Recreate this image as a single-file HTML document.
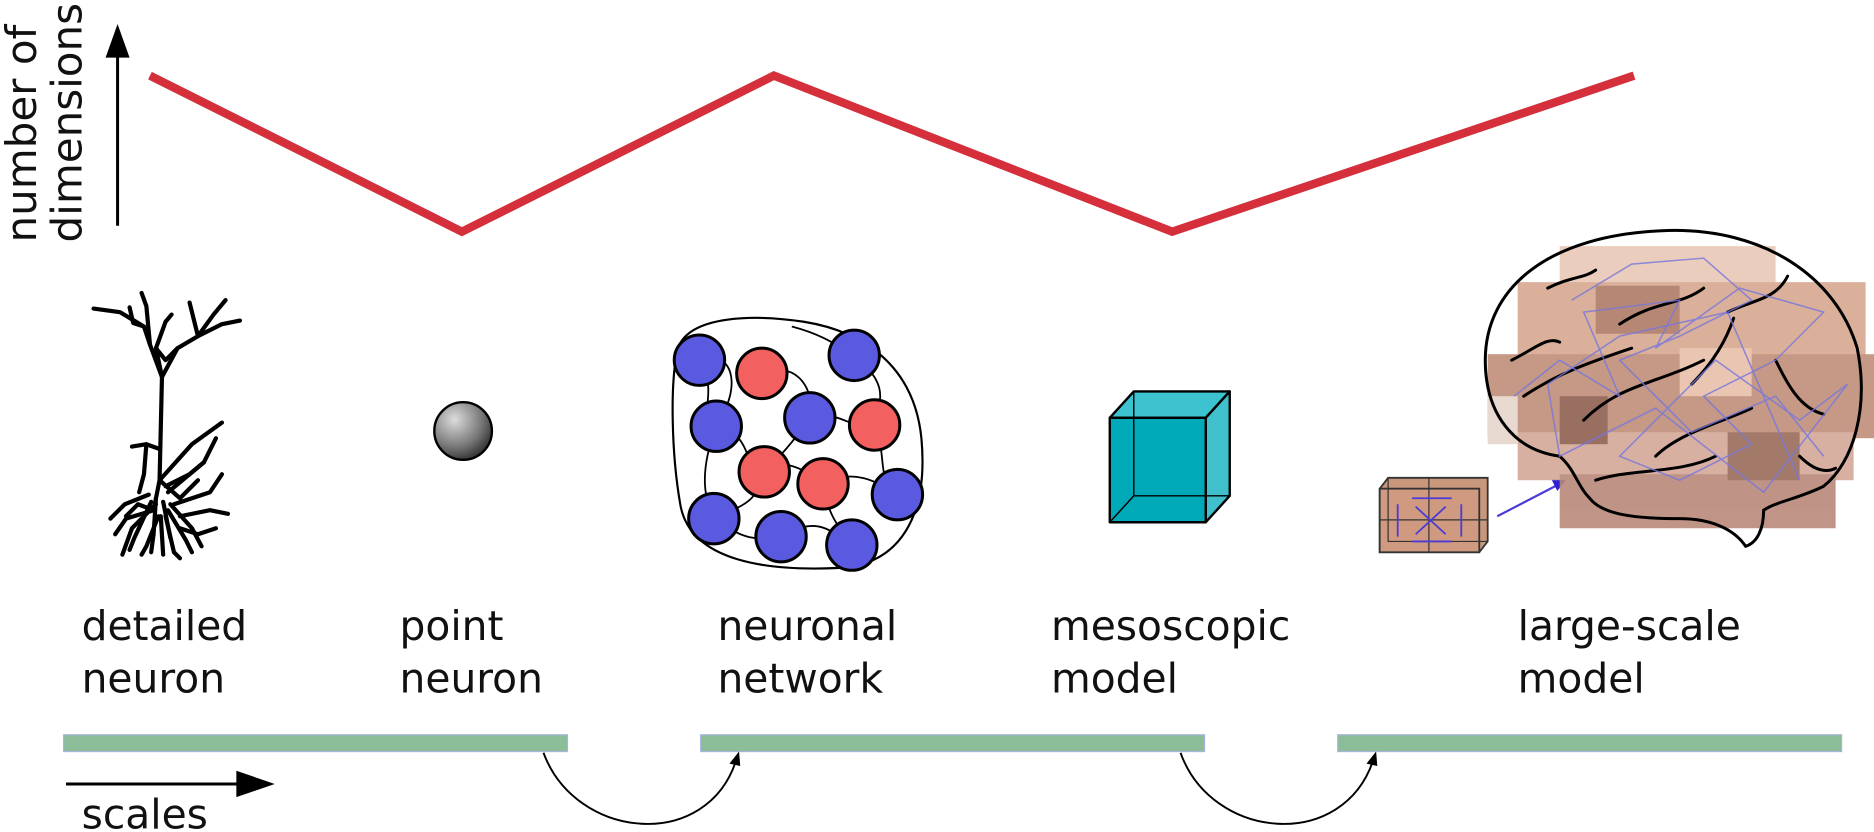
<!DOCTYPE html>
<html><head><meta charset="utf-8"><style>
html,body{margin:0;padding:0;background:#fff;}
svg{display:block;}
text{font-family:"DejaVu Sans","Liberation Sans",sans-serif;fill:#111;}
</style></head><body>
<svg width="1874" height="832" viewBox="0 0 1562 693" preserveAspectRatio="none" xmlns="http://www.w3.org/2000/svg">
<defs>
<radialGradient id="sph" cx="0.35" cy="0.3" r="0.8"><stop offset="0" stop-color="#ddd"/><stop offset="0.6" stop-color="#777"/><stop offset="1" stop-color="#222"/></radialGradient>
</defs>
<!-- y axis arrow -->
<line x1="98" y1="188" x2="98" y2="40" stroke="#000" stroke-width="2.5"/>
<path d="M98,20 L88,48 L108,48 z" fill="#000"/>
<text transform="translate(30,202) rotate(-90)" font-size="35">number of</text>
<text transform="translate(68,202) rotate(-90)" font-size="35">dimensions</text>
<!-- red zigzag -->
<polyline points="125,63 385,193 645,63 977,193 1362,63" fill="none" stroke="#d42f3b" stroke-width="7"/>
<!-- neuron -->
<g fill="none" stroke="#000" stroke-width="3.5" stroke-linecap="round" stroke-linejoin="round">
<path d="M133,400 L135,314 L125,287 L120,272 L100,260 L78,257"/>
<path d="M120,272 L111,269 L108,256"/>
<path d="M125,287 L122,255 L118,244"/>
<path d="M135,314 L130,290 L138,268 L143,262"/>
<path d="M135,314 L148,290 L165,280 L185,270 L200,267"/>
<path d="M148,290 L138,300 L130,290"/>
<path d="M165,280 L160,260 L158,252"/>
<path d="M165,280 L178,262 L188,250"/>
<path d="M133,374 L122,370 L110,372"/>
<path d="M122,370 L120,395 L116,410"/>
<path d="M133,400 L160,370 L185,352"/>
<path d="M140,410 L170,385 L180,365"/>
<path d="M145,420 L175,410 L185,395"/>
<path d="M150,430 L175,425 L190,428"/>
<path d="M150,440 L165,445 L180,440"/>
<path d="M130,420 L110,440 L102,462"/>
<path d="M128,425 L105,432 L96,445"/>
<path d="M132,430 L122,455 L118,462"/>
<path d="M134,430 L136,462"/>
<path d="M138,430 L145,460 L150,465"/>
<path d="M140,425 L155,450 L160,460"/>
<path d="M133,400 L128,425 L115,420 L105,430"/>
<path d="M133,400 L150,415 L165,400"/>
<path d="M126,418 L112,448 L108,458"/>
<path d="M130,415 L128,445 L126,460"/>
<path d="M136,418 L142,448"/>
<path d="M142,420 L160,440 L168,455"/>
<path d="M124,412 L104,420 L92,432"/>
<path d="M138,405 L158,395 L170,385"/>
</g>
<!-- point neuron -->
<circle cx="386" cy="359" r="24" fill="url(#sph)" stroke="#000" stroke-width="2"/>
<!-- network -->
<path d="M565,290 C575,262 630,262 670,268 C720,276 762,305 768,365 C774,430 750,470 700,473 C640,476 575,468 567,420 C560,380 558,320 565,290 z" fill="#fff" stroke="#000" stroke-width="1.8"/>
<g fill="none" stroke="#000" stroke-width="1.5">
<path d="M583,300 C610,290 620,320 597,355"/><path d="M597,355 C630,360 620,400 637,393"/>
<path d="M635,311 C660,300 680,320 675,348"/><path d="M712,296 C740,320 735,330 729,354"/>
<path d="M675,348 C700,340 710,360 729,354"/><path d="M637,393 C650,380 670,390 686,403"/>
<path d="M686,403 C710,390 730,400 748,412"/><path d="M595,432 C620,420 630,420 637,393"/>
<path d="M595,432 C620,450 630,450 651,447"/><path d="M651,447 C680,430 690,440 710,454"/>
<path d="M686,403 C690,430 700,440 710,454"/><path d="M660,272 C690,280 700,290 712,296"/>
<path d="M583,300 C600,330 580,340 597,355"/><path d="M675,348 C660,370 650,380 637,393"/>
<path d="M729,354 C740,380 730,400 748,412"/><path d="M597,355 C580,400 590,420 595,432"/>
</g>
<g stroke="#000" stroke-width="2.5">
<circle cx="583" cy="300" r="21" fill="#5a5ae0"/><circle cx="712" cy="296" r="21" fill="#5a5ae0"/>
<circle cx="597" cy="355" r="21" fill="#5a5ae0"/><circle cx="675" cy="348" r="21" fill="#5a5ae0"/>
<circle cx="748" cy="412" r="21" fill="#5a5ae0"/><circle cx="595" cy="432" r="21" fill="#5a5ae0"/>
<circle cx="651" cy="447" r="21" fill="#5a5ae0"/><circle cx="710" cy="454" r="21" fill="#5a5ae0"/>
<circle cx="635" cy="311" r="21" fill="#f26060"/><circle cx="729" cy="354" r="21" fill="#f26060"/>
<circle cx="637" cy="393" r="21" fill="#f26060"/><circle cx="686" cy="403" r="21" fill="#f26060"/>
</g>
<!-- cube -->
<g stroke="#000" stroke-width="2" stroke-linejoin="round">
<path d="M925,348 L945,326 L1025,326 L1005,348 z" fill="#3cc3cf"/>
<path d="M1005,348 L1025,326 L1025,413 L1005,435 z" fill="#40c0cc"/>
<rect x="925" y="348" width="80" height="87" fill="#00a9b7"/>
<path d="M945,326 L945,413 L925,435 M945,413 L1025,413" fill="none" stroke-width="1.2"/>
</g>
<!-- small cube -->
<g stroke="#333" stroke-width="1.5">
<path d="M1150,407 L1157,398 L1240,398 L1240,451 L1233,460 L1150,460 z" fill="#c9977c"/>
<rect x="1150" y="407" width="83" height="53" fill="#d09a80"/>
<path d="M1191,398 L1191,460 M1150,433 L1240,433 M1157,398 L1157,451 L1240,451" fill="none" stroke-width="1"/>
</g>
<g stroke="#4a3ad8" stroke-width="1.5">
<line x1="1177" y1="415" x2="1210" y2="415"/><line x1="1177" y1="451" x2="1210" y2="451"/>
<line x1="1165" y1="420" x2="1165" y2="447"/><line x1="1218" y1="420" x2="1218" y2="447"/>
<line x1="1180" y1="422" x2="1205" y2="445"/><line x1="1205" y1="422" x2="1180" y2="445"/>
</g>
<line x1="1248" y1="430" x2="1302" y2="402" stroke="#4a3ad8" stroke-width="1.8"/>
<path d="M1305,400 L1293,399 L1298,409 z" fill="#3020d0"/>
<!-- brain -->
<g opacity="0.9">
<rect x="1300" y="205" width="180" height="35" fill="#e9c8b6"/>
<rect x="1265" y="235" width="290" height="65" fill="#d8a890"/>
<rect x="1240" y="295" width="322" height="70" fill="#c08e7a"/>
<rect x="1265" y="360" width="280" height="40" fill="#d4a898"/>
<rect x="1300" y="395" width="230" height="45" fill="#b9897a"/>
<rect x="1330" y="238" width="70" height="40" fill="#b07b68"/>
<rect x="1300" y="330" width="40" height="40" fill="#8e6050"/>
<rect x="1400" y="290" width="60" height="40" fill="#e8c0aa"/>
<rect x="1440" y="360" width="60" height="40" fill="#9a6c5a"/>
<rect x="1240" y="330" width="25" height="40" fill="#e5d5cc"/>
</g>
<path d="M1300,380 C1262,375 1238,345 1238,300 C1238,240 1290,195 1390,192 C1470,190 1530,230 1548,290 C1558,340 1545,385 1520,405 C1500,415 1480,418 1470,425 C1470,440 1465,452 1455,455 C1445,440 1425,432 1400,432 C1360,432 1335,428 1325,415 C1315,405 1312,390 1300,380 z" fill="none" stroke="#000" stroke-width="2.5"/>
<g fill="none" stroke="#000" stroke-width="2.5" stroke-linecap="round">
<path d="M1260,300 C1280,290 1290,280 1300,285"/><path d="M1270,330 C1300,310 1330,300 1360,290"/>
<path d="M1320,350 C1350,320 1380,320 1420,300"/><path d="M1380,380 C1400,360 1440,350 1460,340"/>
<path d="M1350,270 C1380,250 1400,255 1420,240"/><path d="M1440,260 C1460,250 1480,250 1490,230"/>
<path d="M1410,320 C1430,300 1440,280 1445,265"/><path d="M1480,300 C1490,320 1500,340 1520,345"/>
<path d="M1330,400 C1360,390 1400,395 1430,380"/><path d="M1290,240 C1310,230 1320,232 1330,225"/>
<path d="M1500,380 C1510,390 1520,395 1530,390"/>
</g>
<g fill="none" stroke="#7777dd" stroke-width="1.3" opacity="0.8">
<polyline points="1262,330 1300,300 1350,330 1320,260 1400,250 1380,290 1450,240 1520,260 1480,300 1420,330 1460,370 1400,400 1350,380 1430,300 1500,350 1540,320 1470,410 1380,340 1300,380 1290,320 1350,280 1440,260 1500,400"/>
<polyline points="1310,250 1360,220 1420,215 1460,250 1400,280 1350,300 1410,360 1480,330 1520,380"/>
</g>
<!-- labels -->
<g font-size="34">
<text x="68" y="533">detailed</text><text x="68" y="577">neuron</text>
<text x="333" y="533">point</text><text x="333" y="577">neuron</text>
<text x="598" y="533">neuronal</text><text x="598" y="577">network</text>
<text x="876" y="533">mesoscopic</text><text x="876" y="577">model</text>
<text x="1265" y="533">large-scale</text><text x="1265" y="577">model</text>
<text x="68" y="690">scales</text>
</g>
<!-- bars -->
<g fill="#8bbd98" stroke="#a8b4e0" stroke-width="1">
<rect x="53" y="612" width="420" height="14"/>
<rect x="584" y="612" width="420" height="14"/>
<rect x="1115" y="612" width="420" height="14"/>
</g>
<!-- scales arrow -->
<line x1="55" y1="653" x2="210" y2="653" stroke="#000" stroke-width="2.5"/>
<path d="M229,653 L197,642 L197,664 z" fill="#000"/>
<!-- curved arrows -->
<path d="M453,627 C480,700 590,710 614,632" fill="none" stroke="#000" stroke-width="1.6"/>
<path d="M616,626 L608,636 L617,638 z" fill="#000"/>
<path d="M984,627 C1010,700 1120,710 1145,632" fill="none" stroke="#000" stroke-width="1.6"/>
<path d="M1147,626 L1139,636 L1148,638 z" fill="#000"/>
</svg>
</body></html>
